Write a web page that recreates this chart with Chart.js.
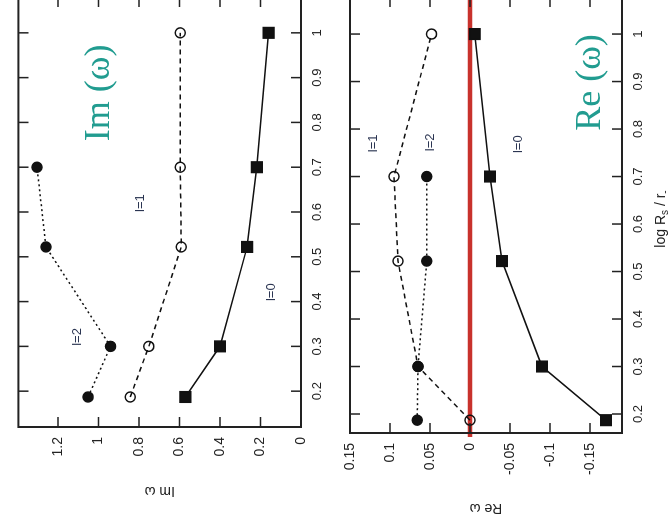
<!DOCTYPE html>
<html>
<head>
<meta charset="utf-8">
<script src="https://cdn.jsdelivr.net/npm/chart.js@4.4.1/dist/chart.umd.min.js"></script>
<style>
  html, body { margin: 0; padding: 0; background: #fff; overflow: hidden; }
  /* the figure is drawn upright and turned a quarter turn to the left */
  #figura {
    position: absolute; left: 0; top: 0;
    width: 524px; height: 671px;
    transform-origin: 0 0;
    transform: translate(0px, 524px) rotate(-90deg);
  }
  #figura canvas { position: absolute; left: 0; top: 0; }
</style>
</head>
<body>
<div id="figura">
  <canvas id="graficoIm" width="540" height="671"></canvas>
  <canvas id="graficoRe" width="540" height="671"></canvas>
</div>
<script>
// log Rs / r-  (eje comun)
const logRs = [0.187, 0.3, 0.522, 0.7, 1.0];

// Im(omega) para l=0, l=1, l=2
const imL0 = [0.571, 0.40, 0.266, 0.218, 0.16];
const imL1 = [0.843, 0.751, 0.591, 0.596, 0.596];
const imL2 = [1.051, 0.94, 1.259, 1.303, null];

// Re(omega) para l=0, l=1, l=2
const reL0 = [-0.170, -0.090, -0.040, -0.025, -0.006];
const reL1 = [0.0, 0.065, 0.090, 0.095, 0.048];
const reL2 = [0.066, 0.065, 0.054, 0.054, null];

// ticks
const logTicks = [0.2, 0.3, 0.4, 0.5, 0.6, 0.7, 0.8, 0.9, 1];
const imTicks = [0, 0.2, 0.4, 0.6, 0.8, 1, 1.2];
const reTicks = [-0.15, -0.1, -0.05, 0, 0.05, 0.1, 0.15];

Chart.defaults.font.family = "'Liberation Sans', Arial, sans-serif";
Chart.defaults.color = '#222';

function puntos(valores) {
  return logRs
    .map((x, i) => ({ x: x, y: valores[i] }))
    .filter(p => p.y !== null);
}

function serie(valores, tipo) {
  const base = {
    data: puntos(valores),
    showLine: true,
    borderColor: '#111',
    borderWidth: 1.5,
    pointBorderColor: '#111',
    pointBorderWidth: 1.5,
    pointBackgroundColor: '#111',
    pointRadius: 5
  };
  if (tipo === 0) {
    base.pointStyle = 'rect';
    base.pointRadius = 7.5;
  } else if (tipo === 1) {
    base.borderDash = [5, 4];
    base.pointBackgroundColor = 'rgba(0,0,0,0)';
  } else {
    base.borderDash = [2, 3];
  }
  return base;
}

// marco, ticks hacia dentro, linea roja y textos
const decoracion = {
  id: 'decoracion',
  beforeDatasetsDraw(chart, args, opts) {
    if (!opts.lineaCero) return;
    const a = chart.chartArea;
    const y0 = chart.scales.y.getPixelForValue(0);
    const ctx = chart.ctx;
    ctx.save();
    ctx.strokeStyle = '#c8322c';
    ctx.lineWidth = 4.5;
    ctx.beginPath();
    ctx.moveTo(a.left - 4, y0);
    ctx.lineTo(a.right, y0);
    ctx.stroke();
    ctx.restore();
  },
  afterDraw(chart, args, opts) {
    const ctx = chart.ctx;
    const a = chart.chartArea;
    const sx = chart.scales.x;
    const sy = chart.scales.y;
    ctx.save();
    ctx.strokeStyle = '#222';
    ctx.lineWidth = 2;
    ctx.strokeRect(a.left, a.top, a.right - a.left, a.bottom - a.top);

    ctx.lineWidth = 1.5;
    const largo = 10;
    ctx.beginPath();
    sx.ticks.forEach(t => {
      const px = sx.getPixelForValue(t.value);
      ctx.moveTo(px, a.bottom); ctx.lineTo(px, a.bottom - largo);
      ctx.moveTo(px, a.top); ctx.lineTo(px, a.top + largo);
    });
    sy.ticks.forEach(t => {
      const py = sy.getPixelForValue(t.value);
      ctx.moveTo(a.left, py); ctx.lineTo(a.left + largo, py);
      ctx.moveTo(a.right, py); ctx.lineTo(a.right - largo, py);
    });
    ctx.stroke();

    // etiquetas dentro del grafico (en unidades de datos)
    opts.textos.forEach(t => {
      ctx.font = t.font;
      ctx.fillStyle = t.color;
      ctx.textAlign = 'center';
      ctx.textBaseline = 'middle';
      ctx.fillText(t.text, sx.getPixelForValue(t.x), sy.getPixelForValue(t.y));
    });

    // titulo del eje y, girado
    ctx.font = "14px 'Liberation Sans', Arial, sans-serif";
    ctx.fillStyle = '#222';
    ctx.translate(a.left - opts.distTitulo, (a.top + a.bottom) / 2);
    ctx.rotate(-Math.PI / 2);
    ctx.textAlign = 'center';
    ctx.textBaseline = 'middle';
    ctx.fillText(opts.tituloY, 0, 0);
    ctx.restore();

    // titulo del eje x con subindices
    if (opts.tituloX) {
      ctx.save();
      ctx.fillStyle = '#222';
      ctx.textBaseline = 'middle';
      const partes = [['log R', 14, 0], ['s', 10, 4], [' / r', 14, 0], ['-', 10, 4]];
      let ancho = 0;
      partes.forEach(p => {
        ctx.font = p[1] + "px 'Liberation Sans', Arial, sans-serif";
        ancho += ctx.measureText(p[0]).width;
      });
      let x = (a.left + a.right) / 2 - 4 - ancho / 2;
      const y = 661;
      partes.forEach(p => {
        ctx.font = p[1] + "px 'Liberation Sans', Arial, sans-serif";
        ctx.textAlign = 'left';
        ctx.fillText(p[0], x, y + p[2]);
        x += ctx.measureText(p[0]).width;
      });
      ctx.restore();
    }
  }
};

const teal = '#219c90';
const serif = "'Liberation Serif', 'DejaVu Serif', serif";
const chica = "13px 'Liberation Sans', Arial, sans-serif";
const colorL = '#2b3552';

function opciones(cfg) {
  return {
    responsive: false,
    animation: false,
    layout: { padding: cfg.padding },
    plugins: {
      legend: { display: false },
      tooltip: { enabled: false },
      decoracion: cfg.deco
    },
    scales: {
      x: {
        type: 'linear',
        min: cfg.xMin, max: cfg.xMax,
        grid: { display: false, drawTicks: false },
        border: { display: false },
        afterBuildTicks: s => { s.ticks = logTicks.map(v => ({ value: v })); },
        afterFit: s => { s.height = cfg.altoX; },
        ticks: {
          autoSkip: false, maxRotation: 0, minRotation: 0, padding: 9,
          font: { size: 13 },
          callback: v => String(v)
        }
      },
      y: {
        type: 'linear',
        min: cfg.yMin, max: cfg.yMax,
        grid: { display: false, drawTicks: false },
        border: { display: false },
        afterBuildTicks: s => { s.ticks = cfg.yTicks.map(v => ({ value: v })); },
        afterFit: s => { s.width = cfg.anchoY; },
        ticks: {
          padding: 10,
          font: { size: 14 },
          callback: v => String(v)
        }
      }
    }
  };
}

const graficoIm = new Chart(document.getElementById('graficoIm'), {
  type: 'scatter',
  data: { datasets: [serie(imL0, 0), serie(imL1, 1), serie(imL2, 2)] },
  options: opciones({
    padding: { top: 13, right: 13, left: 0, bottom: 0 },
    xMin: 0.12, xMax: 1.08, altoX: 370,
    yMin: 0, yMax: 1.395, anchoY: 97, yTicks: imTicks,
    deco: {
      lineaCero: false,
      tituloY: 'Im ω',
      distTitulo: 64,
      tituloX: false,
      textos: [
        { text: 'Im (ω)', x: 0.866, y: 0.993, font: '36px ' + serif, color: teal },
        { text: 'l=1', x: 0.62, y: 0.794, font: chica, color: colorL },
        { text: 'l=2', x: 0.321, y: 1.104, font: chica, color: colorL },
        { text: 'l=0', x: 0.421, y: 0.145, font: chica, color: colorL }
      ]
    }
  }),
  plugins: [decoracion]
});

const graficoRe = new Chart(document.getElementById('graficoRe'), {
  type: 'scatter',
  data: { datasets: [serie(reL0, 0), serie(reL1, 1), serie(reL2, 2)] },
  options: opciones({
    padding: { top: 350, right: 13, left: 0, bottom: 0 },
    xMin: 0.16, xMax: 1.078, altoX: 49,
    yMin: -0.19, yMax: 0.15, anchoY: 91, yTicks: reTicks,
    deco: {
      lineaCero: true,
      tituloY: 'Re ω',
      distTitulo: 75,
      tituloX: true,
      textos: [
        { text: 'Re (ω)', x: 0.898, y: -0.151, font: '36px ' + serif, color: teal },
        { text: 'l=1', x: 0.77, y: 0.121, font: chica, color: colorL },
        { text: 'l=2', x: 0.772, y: 0.05, font: chica, color: colorL },
        { text: 'l=0', x: 0.768, y: -0.06, font: chica, color: colorL }
      ]
    }
  }),
  plugins: [decoracion]
});
</script>
</body>
</html>
